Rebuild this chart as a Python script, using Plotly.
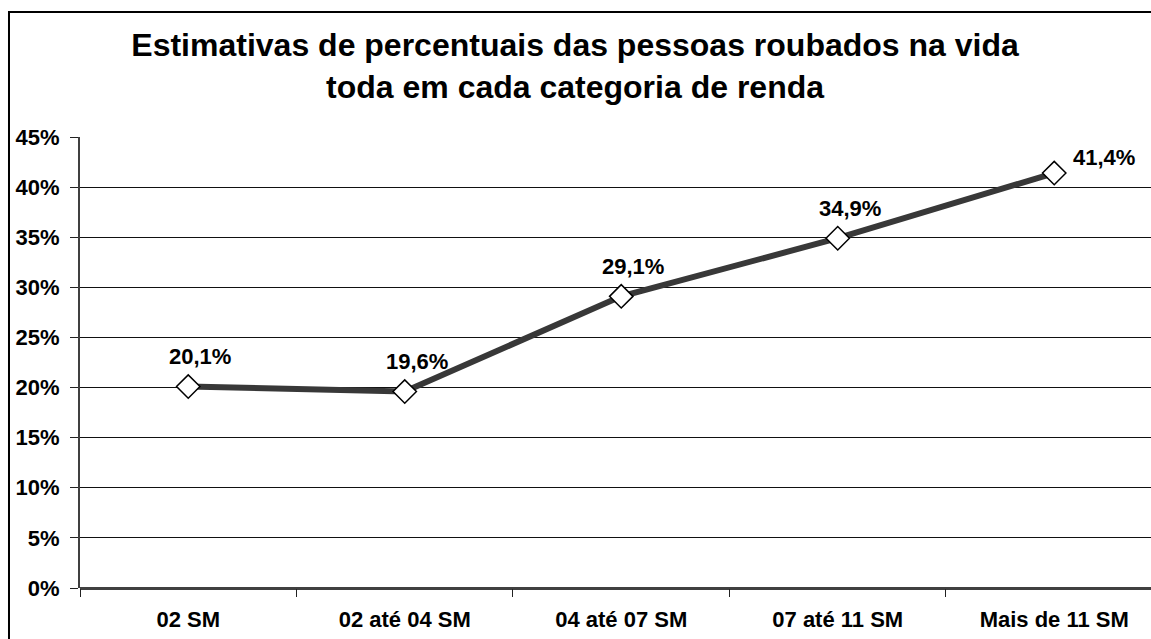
import plotly.graph_objects as go

# -- data
categorias = ['02 SM', '02 até 04 SM', '04 até 07 SM', '07 até 11 SM', 'Mais de 11 SM']
percentuais = [20.1, 19.6, 29.1, 34.9, 41.4]
rotulos = ['20,1%', '19,6%', '29,1%', '34,9%', '41,4%']
ticks_y = [0, 5, 10, 15, 20, 25, 30, 35, 40, 45]

fonte = 'Liberation Sans, Arial, sans-serif'

fig = go.Figure()

fig.add_trace(go.Scatter(x=categorias, y=percentuais, mode='lines+markers',
                         line=dict(color='#383838', width=6),
                         marker=dict(symbol='diamond', size=18, color='white',
                                     line=dict(color='black', width=1.5)),
                         showlegend=False, cliponaxis=False))

# -- data labels (Excel style, above right of each point)
for i, (c, v, r) in enumerate(zip(categorias, percentuais, rotulos)):
    ultimo = i == len(categorias) - 1
    fig.add_annotation(x=c, y=v, text=r, showarrow=False,
                       xshift=50 if ultimo else 12, yshift=16 if ultimo else 30,
                       font=dict(family=fonte, size=22, color='black', weight='bold'))

fig.update_layout(
    width=1151, height=639,
    paper_bgcolor='white', plot_bgcolor='white',
    margin=dict(l=80, r=0, t=137, b=51),
    title=dict(text='Estimativas de percentuais das pessoas roubados na vida<br>toda em cada categoria de renda',
               x=0.4996, xref='container', xanchor='center',
               y=1 - 56 / 639, yref='container', yanchor='top',
               font=dict(family=fonte, size=32, color='black', weight='bold')),
    shapes=[dict(type='rect', xref='paper', yref='paper',
                 x0=-0.0663, x1=1.2, y0=-0.5, y1=1.277,
                 line=dict(color='black', width=2), fillcolor='rgba(0,0,0,0)', layer='below')],
)

fig.update_xaxes(range=[-0.5, 4.447], showgrid=False,
                 ticks='outside', tickson='boundaries', ticklen=8, tickcolor='#222',
                 showline=False, zeroline=False, ticklabelstandoff=16,
                 tickfont=dict(family=fonte, size=22, color='black', weight='bold'))

fig.update_yaxes(range=[0, 45], tickvals=ticks_y, ticktext=[f'{t}%' for t in ticks_y],
                 showgrid=True, gridcolor='#111', gridwidth=1,
                 zeroline=True, zerolinecolor='#404040', zerolinewidth=3,
                 showline=True, linecolor='#404040', linewidth=2,
                 ticks='outside', ticklen=8, tickcolor='#222', ticklabelstandoff=6,
                 tickfont=dict(family=fonte, size=22, color='black', weight='bold'))

# the page body has an 8px margin by default; drop it so the figure sits at 0,0
fig.write_html('out.html', config={'displayModeBar': False},
               post_script="document.body.style.margin='0';")
